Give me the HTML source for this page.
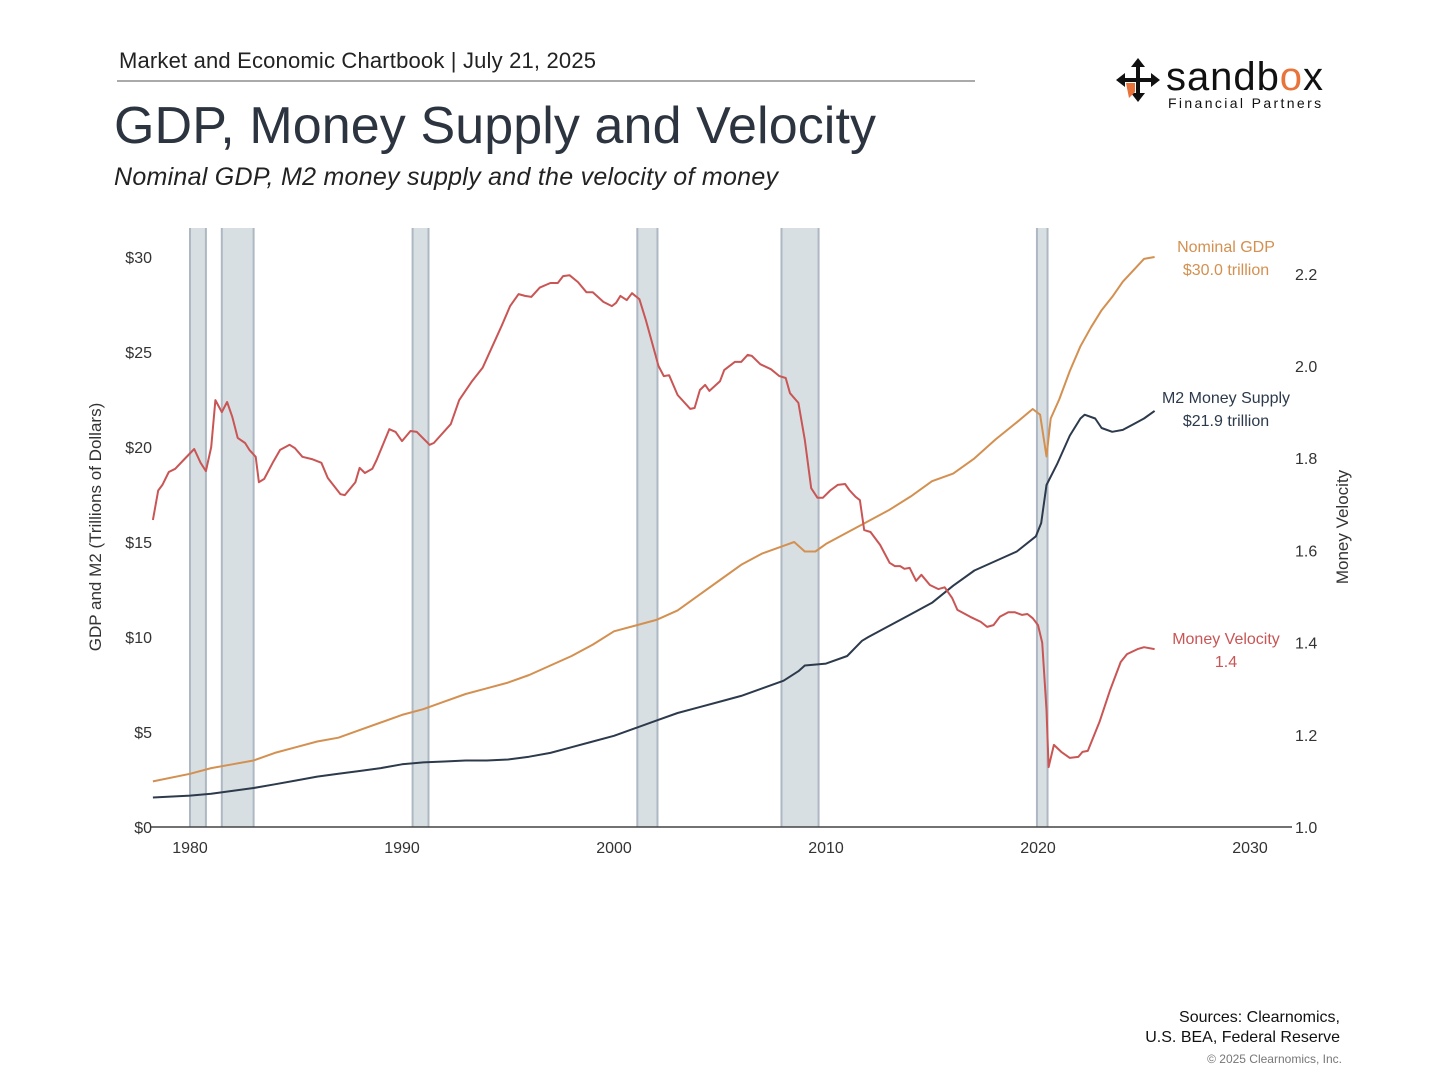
<!DOCTYPE html>
<html><head><meta charset="utf-8"><style>
body{margin:0;background:#fff;}
svg{display:block;font-family:"Liberation Sans",sans-serif;}
</style></head><body>
<svg id="chart" width="1456" height="1092" viewBox="0 0 1456 1092">
<text x="119" y="68" font-size="22" fill="#222" textLength="477">Market and Economic Chartbook | July 21, 2025</text>
<line x1="117" y1="81" x2="975" y2="81" stroke="#555" stroke-width="1"/>
<text x="114" y="143" font-size="52" fill="#2c3440" textLength="762">GDP, Money Supply and Velocity</text>
<text x="114" y="185" font-size="25" font-style="italic" fill="#222" textLength="664">Nominal GDP, M2 money supply and the velocity of money</text>
<g>
<g transform="translate(1138,80)" fill="#111">
<path d="M0,-22 L7,-13 L2,-13 L2,-2 L13,-2 L13,-7 L22,0 L13,7 L13,2 L2,2 L2,13 L7,13 L0,22 L-7,13 L-2,13 L-2,2 L-13,2 L-13,7 L-22,0 L-13,-7 L-13,-2 L-2,-2 L-2,-13 L-7,-13 Z"/>
<path d="M-12,3 L-3,3 L-3,12 L-9,18 Z" fill="#e8743b"/>
</g>
<text x="1166" y="90" font-size="40" fill="#111" textLength="157">sandb<tspan fill="#e8743b">o</tspan>x</text>
<text x="1168" y="108" font-size="14" letter-spacing="1.9" fill="#111" textLength="155">Financial Partners</text>
</g>
<g id="recessions"></g>
<g id="axes"></g>
<g id="lines"></g>
<text transform="translate(101,527) rotate(-90)" text-anchor="middle" font-size="17" fill="#333">GDP and M2 (Trillions of Dollars)</text>
<text transform="translate(1348,527) rotate(-90)" text-anchor="middle" font-size="17" fill="#333">Money Velocity</text>
<text x="1226" y="252" text-anchor="middle" font-size="16" fill="#d39050">Nominal GDP</text>
<text x="1226" y="275" text-anchor="middle" font-size="16" fill="#d39050">$30.0 trillion</text>
<text x="1226" y="403" text-anchor="middle" font-size="16" fill="#2c3a4c">M2 Money Supply</text>
<text x="1226" y="426" text-anchor="middle" font-size="16" fill="#2c3a4c">$21.9 trillion</text>
<text x="1226" y="644" text-anchor="middle" font-size="16" fill="#c95555">Money Velocity</text>
<text x="1226" y="667" text-anchor="middle" font-size="16" fill="#c95555">1.4</text>
<text x="1340" y="1022" text-anchor="end" font-size="16" fill="#111">Sources: Clearnomics,</text>
<text x="1340" y="1042" text-anchor="end" font-size="16" fill="#111">U.S. BEA, Federal Reserve</text>
<text x="1342" y="1063" text-anchor="end" font-size="12" fill="#777">© 2025 Clearnomics, Inc.</text>
</svg>
<script>
const xTicks=[1980,1990,2000,2010,2020,2030];
const leftTicks=[0,5,10,15,20,25,30];
const rightTicks=[1.0,1.2,1.4,1.6,1.8,2.0,2.2];
const recessionStarts=[1980.0,1981.5,1990.5,2001.1,2007.9,2019.95];
const recessionEnds=[1980.75,1983.0,1991.25,2002.05,2009.65,2020.45];
const gdpYears=[1978.25,1980,1981,1982,1983,1984,1985,1986,1987,1988,1989,1990,1991,1992,1993,1994,1995,1996,1997,1998,1999,2000,2001,2002,2003,2004,2005,2006,2007,2008,2008.5,2009,2009.5,2010,2011,2012,2013,2014,2015,2016,2017,2018,2019,2019.75,2020.1,2020.4,2020.6,2021,2021.5,2022,2022.5,2023,2023.5,2024,2024.5,2025,2025.5];
const gdpValues=[2.4,2.8,3.1,3.3,3.5,3.9,4.2,4.5,4.7,5.1,5.5,5.9,6.2,6.6,7.0,7.3,7.6,8.0,8.5,9.0,9.6,10.3,10.6,10.9,11.4,12.2,13.0,13.8,14.4,14.8,15.0,14.5,14.5,14.9,15.5,16.1,16.7,17.4,18.2,18.6,19.4,20.4,21.3,22.0,21.7,19.5,21.5,22.5,24.0,25.3,26.3,27.2,27.9,28.7,29.3,29.9,30.0];
const m2Years=[1978.25,1980,1981,1982,1983,1984,1985,1986,1987,1988,1989,1990,1991,1992,1993,1994,1995,1996,1997,1998,1999,2000,2001,2002,2003,2004,2005,2006,2007,2008,2008.7,2009,2010,2011,2011.7,2012,2013,2014,2015,2016,2017,2018,2019,2019.9,2020.15,2020.4,2020.9,2021.5,2022,2022.2,2022.7,2023,2023.5,2024,2024.5,2025,2025.5];
const m2Values=[1.55,1.65,1.75,1.9,2.05,2.25,2.45,2.65,2.8,2.95,3.1,3.3,3.4,3.45,3.5,3.5,3.55,3.7,3.9,4.2,4.5,4.8,5.2,5.6,6.0,6.3,6.6,6.9,7.3,7.7,8.2,8.5,8.6,9.0,9.8,10.0,10.6,11.2,11.8,12.7,13.5,14.0,14.5,15.3,16.0,18.0,19.1,20.6,21.5,21.7,21.5,21.0,20.8,20.9,21.2,21.5,21.9];
const velYears=[1978.25,1978.5,1978.7,1979.0,1979.3,1979.7,1980.2,1980.5,1980.75,1981.0,1981.2,1981.5,1981.75,1982.0,1982.25,1982.6,1982.8,1983.1,1983.25,1983.5,1983.9,1984.25,1984.7,1984.95,1985.3,1985.75,1986.2,1986.5,1987.1,1987.3,1987.8,1988.0,1988.25,1988.6,1988.8,1989.4,1989.7,1990.0,1990.4,1990.7,1991.3,1991.5,1992.3,1992.7,1993.3,1993.8,1994.7,1995.1,1995.5,1995.8,1996.1,1996.5,1997.0,1997.35,1997.6,1997.9,1998.3,1998.7,1999.0,1999.5,1999.9,2000.1,2000.3,2000.6,2000.85,2001.2,2001.5,2001.7,2002.1,2002.35,2002.6,2003.0,2003.6,2003.8,2004.05,2004.3,2004.5,2005.0,2005.2,2005.7,2006.0,2006.3,2006.5,2006.9,2007.4,2007.8,2008.1,2008.3,2008.7,2009.0,2009.3,2009.6,2009.85,2010.2,2010.55,2010.9,2011.1,2011.4,2011.6,2011.8,2012.1,2012.55,2013.0,2013.25,2013.5,2013.7,2013.95,2014.25,2014.5,2014.9,2015.3,2015.6,2015.95,2016.2,2016.8,2017.3,2017.6,2017.9,2018.2,2018.6,2018.9,2019.25,2019.5,2019.75,2020.0,2020.2,2020.4,2020.5,2020.75,2021.1,2021.5,2021.9,2022.1,2022.35,2022.9,2023.4,2023.9,2024.2,2024.7,2025.0,2025.5];
const velValues=[1.666,1.73,1.742,1.77,1.777,1.796,1.82,1.79,1.772,1.824,1.926,1.9,1.922,1.889,1.844,1.833,1.818,1.803,1.748,1.755,1.79,1.818,1.829,1.822,1.803,1.798,1.79,1.757,1.722,1.72,1.748,1.779,1.768,1.777,1.796,1.863,1.857,1.837,1.859,1.857,1.829,1.833,1.874,1.926,1.967,1.996,2.087,2.13,2.156,2.152,2.15,2.17,2.18,2.18,2.195,2.197,2.182,2.16,2.16,2.139,2.13,2.137,2.152,2.143,2.158,2.145,2.1,2.067,2.0,1.978,1.98,1.937,1.907,1.909,1.948,1.959,1.946,1.967,1.991,2.009,2.009,2.024,2.022,2.004,1.993,1.978,1.974,1.941,1.92,1.84,1.735,1.714,1.714,1.73,1.742,1.744,1.731,1.716,1.709,1.644,1.64,1.612,1.573,1.566,1.566,1.56,1.562,1.534,1.547,1.525,1.516,1.52,1.497,1.471,1.456,1.445,1.434,1.438,1.456,1.466,1.466,1.46,1.462,1.453,1.438,1.4,1.254,1.13,1.178,1.163,1.15,1.152,1.163,1.165,1.228,1.297,1.358,1.375,1.386,1.39,1.386];

const NS="http://www.w3.org/2000/svg";
function X(yr){return 190+(yr-1980)*21.2;}
function YL(v){return 827-v*19;}
function YR(v){return 827-(v-1)*461;}
function mk(tag,attrs,parent){const e=document.createElementNS(NS,tag);for(const k in attrs)e.setAttribute(k,attrs[k]);parent.appendChild(e);return e;}
const rec=document.getElementById('recessions'),ax=document.getElementById('axes'),ln=document.getElementById('lines');
for(let i=0;i<recessionStarts.length;i++){
  const x0=X(recessionStarts[i]),x1=X(recessionEnds[i]);
  const r=mk('rect',{x:x0,y:228,width:x1-x0,height:599,fill:'#d8dfe3'},rec);
  
  
  const l1=mk('line',{x1:x0,y1:228,x2:x0,y2:827,stroke:'#adb8c2','stroke-width':2},rec);
  
  
  const l2=mk('line',{x1:x1,y1:228,x2:x1,y2:827,stroke:'#adb8c2','stroke-width':2},rec);
  
  
}
const axl=mk('line',{x1:150,y1:827,x2:1292,y2:827,stroke:'#444','stroke-width':1.5},ax);


xTicks.forEach(t=>{
  const e=mk('text',{x:X(t),y:853,'text-anchor':'middle','font-size':16,fill:'#333'},ax);e.textContent=t;
  
  
});
leftTicks.forEach(t=>{
  const e=mk('text',{x:152,y:YL(t)+6,'text-anchor':'end','font-size':16,fill:'#333'},ax);e.textContent='$'+t;
  
  
});
rightTicks.forEach(t=>{
  const e=mk('text',{x:1295,y:YR(t)+6,'font-size':16,fill:'#333'},ax);e.textContent=t.toFixed(1);
  
  
});
function path(xs,ys,yf,color){
  let d='';for(let i=0;i<xs.length;i++)d+=(i?'L':'M')+X(xs[i]).toFixed(1)+','+yf(ys[i]).toFixed(1);
  return mk('path',{d:d,fill:'none',stroke:color,'stroke-width':2,'stroke-linejoin':'round'},ln);
}
const g=path(gdpYears,gdpValues,YL,'#d39050');


const m=path(m2Years,m2Values,YL,'#2c3a4c');


const v=path(velYears,velValues,YR,'#c95555');


</script>
</body></html>
